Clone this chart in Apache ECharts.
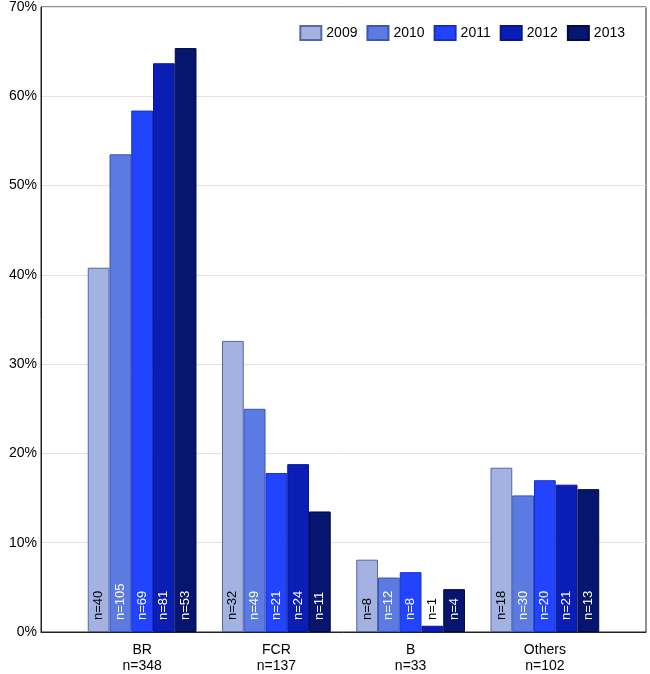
<!DOCTYPE html>
<html>
<head>
<meta charset="utf-8">
<script src="https://cdn.jsdelivr.net/npm/echarts@6/dist/echarts.min.js"></script>
<style>
  html, body { margin: 0; padding: 0; background: #fff; }
  #chart { width: 650px; height: 674px; }
</style>
</head>
<body>
<div id="chart"></div>
<script>
var categories = ['BR\nn=348', 'FCR\nn=137', 'B\nn=33', 'Others\nn=102']
var years = ['2009', '2010', '2011', '2012', '2013']
// percentage per year, one array per category order
var pct2009 = [40.8, 32.6, 8.1, 18.4]
var pct2010 = [53.5, 25.0, 6.1, 15.3]
var pct2011 = [58.4, 17.8, 6.7, 17.0]
var pct2012 = [63.7, 18.8, 0.7, 16.5]
var pct2013 = [65.4, 13.5, 4.8, 16.0]
// counts shown inside the bars
var n2009 = [40, 32, 8, 18]
var n2010 = [105, 49, 12, 30]
var n2011 = [69, 21, 8, 20]
var n2012 = [81, 24, 1, 21]
var n2013 = [53, 11, 4, 13]

var colors = ['#a3b2e1', '#5c7be2', '#2244ff', '#0a1eb5', '#06156e']
var borders = ['#5468a8', '#3a54b8', '#1430c8', '#061590', '#020a45']
var pctList = [pct2009, pct2010, pct2011, pct2012, pct2013]
var nList = [n2009, n2010, n2011, n2012, n2013]

var series = years.map(function (y, i) {
  return {
    name: y,
    type: 'bar',
    xAxisIndex: 1,
    yAxisIndex: 1,
    barGap: '0%',
    barCategoryGap: '19%',
    itemStyle: { color: colors[i], borderColor: borders[i], borderWidth: 1 },
    data: pctList[i].map(function (v, j) {
      var small = v < 3
      return {
        value: v,
        label: {
          show: true,
          formatter: 'n=' + nList[i][j],
          position: 'insideBottom',
          rotate: 90,
          align: 'left',
          verticalAlign: 'middle',
          distance: 12,
          fontFamily: 'Liberation Sans',
          fontSize: 13,
          color: (i === 0 || small) ? '#000' : '#fff'
        }
      }
    })
  }
})

var option = {
  animation: false,
  textStyle: { fontFamily: 'Liberation Sans' },
  grid: [
    // frame + y axis
    { left: 41, right: 4, top: 7, bottom: 42, show: true, borderColor: '#222', borderWidth: 1 },
    // bars sit inset from the frame
    { left: 75, right: 38, top: 7, bottom: 42 }
  ],
  legend: {
    data: years,
    right: 20,
    top: 20,
    icon: 'rect',
    itemWidth: 21,
    itemHeight: 14,
    itemGap: 9,
    textStyle: { fontSize: 14, color: '#000', fontFamily: 'Liberation Sans' }
  },
  xAxis: [
    {
      gridIndex: 0, type: 'value', min: 0, max: 1,
      axisLine: { show: true, lineStyle: { color: '#222' } },
      axisTick: { show: false }, axisLabel: { show: false }, splitLine: { show: false }
    },
    {
      gridIndex: 1,
      type: 'category',
      data: categories,
      axisLine: { show: false },
      axisTick: { alignWithLabel: true, length: 4, lineStyle: { color: '#222' } },
      axisLabel: { color: '#000', fontSize: 14, lineHeight: 16, margin: 10 }
    }
  ],
  yAxis: [
    {
      gridIndex: 0,
      type: 'value',
      min: 0,
      max: 70,
      interval: 10,
      axisLine: { show: true, lineStyle: { color: '#222' } },
      axisTick: { show: false },
      splitLine: { lineStyle: { color: '#e2e2e2' } },
      axisLabel: { formatter: '{value}%', color: '#000', fontSize: 14, margin: 4 }
    },
    {
      gridIndex: 1, type: 'value', min: 0, max: 70, interval: 10,
      axisLine: { show: false }, axisTick: { show: false },
      axisLabel: { show: false }, splitLine: { show: false }
    }
  ],
  series: series
}

var myChart = echarts.init(document.getElementById('chart'))
myChart.setOption(option)
</script>
</body>
</html>
